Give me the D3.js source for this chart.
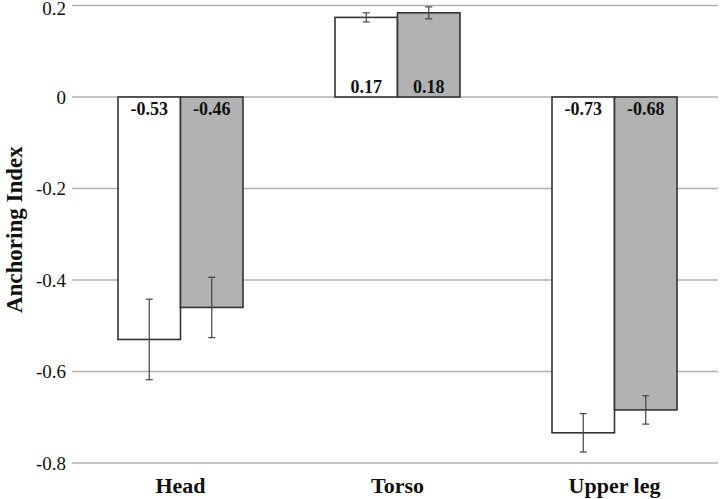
<!DOCTYPE html>
<html>
<head>
<meta charset="utf-8">
<script src="https://cdn.jsdelivr.net/npm/d3@7"></script>
<style>
  body { margin: 0; background: #fff; }
  text { font-family: "Liberation Serif", "Times New Roman", serif; }
</style>
</head>
<body>
<div id="chart"></div>
<script>
// Data
const categories = ["Head", "Torso", "Upper leg"];
const groups = ["A", "B"];
const valuesA = [-0.53, 0.174, -0.734];
const valuesB = [-0.46, 0.184, -0.684];
const errorsA = [0.088, 0.01, 0.042];
const errorsB = [0.066, 0.013, 0.031];
const yTicks = [0.2, 0, -0.2, -0.4, -0.6, -0.8];

const width = 720, height = 499;
const margin = { top: 5.5, right: 2, bottom: 36, left: 72 };

const svg = d3.select("#chart")
  .append("svg")
  .attr("width", width)
  .attr("height", height);

const y = d3.scaleLinear()
  .domain([-0.8, 0.2])
  .range([height - margin.bottom, margin.top]);

const x = d3.scaleBand()
  .domain(categories)
  .range([margin.left, 723])
  .paddingInner(0.424)
  .paddingOuter(0.212);

const xSub = d3.scaleBand()
  .domain(groups)
  .range([0, x.bandwidth()]);

const fmt = f => v => d3.format(f)(v).replace("\u2212", "-");

// gridlines
svg.append("g")
  .selectAll("line")
  .data(yTicks)
  .join("line")
  .attr("x1", margin.left)
  .attr("x2", 718)
  .attr("y1", d => y(d))
  .attr("y2", d => y(d))
  .attr("stroke", "#b0b0b0")
  .attr("stroke-width", 1.3);

// y tick labels
svg.append("g")
  .selectAll("text")
  .data(yTicks)
  .join("text")
  .attr("x", 66)
  .attr("y", d => Math.max(y(d), 8))
  .attr("dy", "0.35em")
  .attr("text-anchor", "end")
  .attr("font-size", 19)
  .attr("fill", "#111")
  .text(d => d === 0 ? "0" : fmt(".1f")(d));

// axis title
svg.append("text")
  .attr("transform", `translate(22,${y(-0.29)}) rotate(-90)`)
  .attr("text-anchor", "middle")
  .attr("font-size", 23)
  .attr("font-weight", "bold")
  .attr("fill", "#111")
  .text("Anchoring Index");

// category labels
svg.append("g")
  .selectAll("text")
  .data(categories)
  .join("text")
  .attr("x", d => x(d) + x.bandwidth() / 2)
  .attr("y", 493)
  .attr("text-anchor", "middle")
  .attr("font-size", 22)
  .attr("font-weight", "bold")
  .attr("fill", "#111")
  .text(d => d);

const rows = [];
categories.forEach((c, i) => {
  rows.push({ cat: c, g: "A", v: valuesA[i], e: errorsA[i] });
  rows.push({ cat: c, g: "B", v: valuesB[i], e: errorsB[i] });
});

// bars
svg.append("g")
  .selectAll("rect")
  .data(rows)
  .join("rect")
  .attr("x", d => x(d.cat) + xSub(d.g))
  .attr("width", xSub.bandwidth())
  .attr("y", d => Math.min(y(d.v), y(0)))
  .attr("height", d => Math.abs(y(d.v) - y(0)))
  .attr("fill", d => d.g === "A" ? "#ffffff" : "#b2b2b2")
  .attr("stroke", "#333")
  .attr("stroke-width", 1.6);

// error bars
const err = svg.append("g")
  .selectAll("g")
  .data(rows)
  .join("g")
  .attr("transform", d => `translate(${x(d.cat) + xSub(d.g) + xSub.bandwidth() / 2},0)`)
  .attr("stroke", "#444")
  .attr("stroke-width", 1.2);

err.append("line")
  .attr("y1", d => y(d.v + d.e))
  .attr("y2", d => y(d.v - d.e));
err.append("line")
  .attr("x1", -3.5).attr("x2", 3.5)
  .attr("y1", d => y(d.v + d.e))
  .attr("y2", d => y(d.v + d.e));
err.append("line")
  .attr("x1", -3.5).attr("x2", 3.5)
  .attr("y1", d => y(d.v - d.e))
  .attr("y2", d => y(d.v - d.e));

// value labels
svg.append("g")
  .selectAll("text")
  .data(rows)
  .join("text")
  .attr("x", d => x(d.cat) + xSub(d.g) + xSub.bandwidth() / 2)
  .attr("y", d => d.v < 0 ? y(0) + 18 : y(0) - 4)
  .attr("text-anchor", "middle")
  .attr("font-size", 18)
  .attr("font-weight", "bold")
  .attr("fill", "#111")
  .text(d => fmt(".2f")(d.v));
</script>
</body>
</html>
